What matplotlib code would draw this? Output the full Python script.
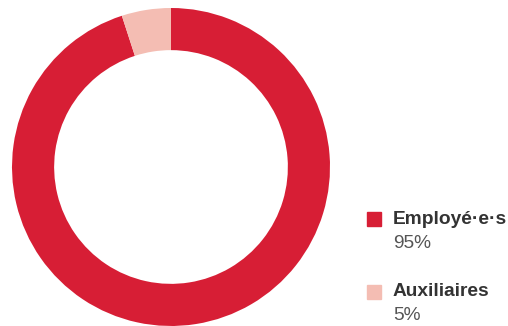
import matplotlib.pyplot as plt
from matplotlib.patches import Rectangle

labels = ["Employé·e·s", "Auxiliaires"]
values = [95, 5]
colors = ["#d71e35", "#f4bdb3"]

plt.rcParams["font.family"] = ["Liberation Sans", "DejaVu Sans"]

fig = plt.figure(figsize=(5.08, 3.26), dpi=100)

# anneau
ax = fig.add_axes([12 / 508, 0 / 326, 318 / 508, 318 / 326])
ax.pie(
    values,
    colors=colors,
    startangle=90,
    counterclock=False,
    radius=1.0,
    wedgeprops=dict(width=0.265, edgecolor="none"),
)
ax.set_xlim(-1, 1)
ax.set_ylim(-1, 1)
ax.set_aspect("equal")
ax.axis("off")

# légende
leg_y = [219 / 326, 292 / 326]
for lab, val, col, y in zip(labels, values, colors, leg_y):
    yf = 1 - y
    fig.patches.append(
        Rectangle((367 / 508, yf - 7 / 326), 14 / 508, 14 / 326,
                  transform=fig.transFigure, color=col, figure=fig)
    )
    fig.text(393 / 508, yf, lab, fontsize=13.8, fontweight="bold",
             color="#333333", va="center", ha="left")
    fig.text(393 / 508, yf - 24 / 326, f"{val}%", fontsize=13.8,
             color="#555555", va="center", ha="left")

fig.savefig("out.png", dpi=100)
